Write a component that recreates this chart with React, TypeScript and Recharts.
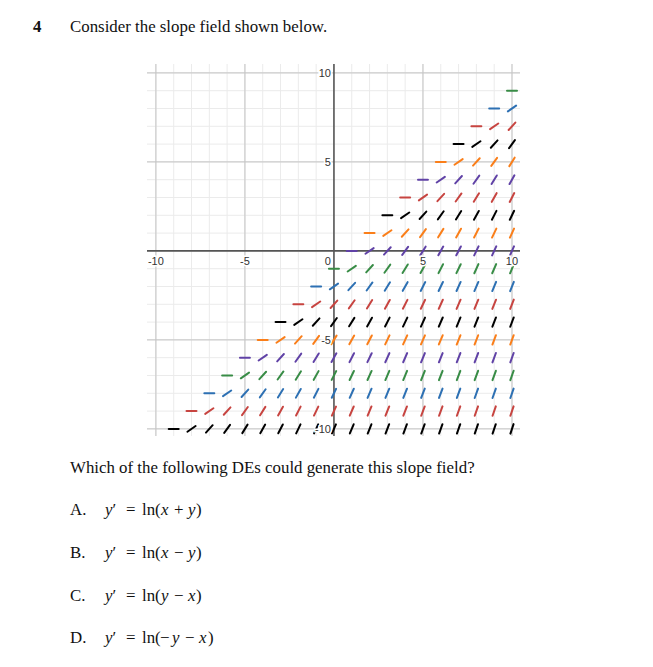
import React from 'react';
import { ScatterChart, XAxis, YAxis, ReferenceLine, Scatter } from 'recharts';

// Integer grid positions (x and y) of the slope field window
const gridValues = [-10, -9, -8, -7, -6, -5, -4, -3, -2, -1, 0, 1, 2, 3, 4, 5, 6, 7, 8, 9, 10];
const majorValues = [-10, -5, 5, 10];

// Rows of the slope field (y value) and the colour each row is drawn in
const rowYs = [9, 8, 7, 6, 5, 4, 3, 2, 1, 0, -1, -2, -3, -4, -5, -6, -7, -8, -9, -10];
const rowColors = [
  '#388c46', '#2d70b3', '#c74440', '#000000', '#fa7e19', '#6042a6',
  '#c74440', '#000000', '#fa7e19', '#6042a6',
  '#388c46', '#2d70b3', '#c74440', '#000000', '#fa7e19', '#6042a6',
  '#388c46', '#2d70b3', '#c74440', '#000000',
];

// Slope of a segment as read by gap = x - y (1..20)
const slopeByGap = [0, 0.69, 1.1, 1.39, 1.61, 1.79, 1.95, 2.08, 2.2, 2.3, 2.4, 2.48, 2.56, 2.64, 2.71, 2.77, 2.83, 2.89, 2.94, 3.0];

// Axis tick labels
const xLabelValues = [-10, -5, 0, 5, 10];
const xLabelTexts = ['-10', '-5', '0', '5', '10'];
const yLabelValues = [10, 5, -5, -10];
const yLabelTexts = ['10', '5', '-5', '-10'];

const HALF = 0.28;

const segments: { x1: number; y1: number; x2: number; y2: number; color: string }[] = [];
rowYs.forEach((y, i) => {
  gridValues.forEach((x) => {
    const gap = x - y;
    if (gap >= 1) {
      const m = slopeByGap[gap - 1];
      const h = HALF / Math.sqrt(1 + m * m);
      segments.push({ x1: x - h, y1: y - m * h, x2: x + h, y2: y + m * h, color: rowColors[i] });
    }
  });
});

const xLabelData = xLabelValues.map((v, i) => ({ x: v, y: 0, label: xLabelTexts[i] }));
const yLabelData = yLabelValues.map((v, i) => ({ x: 0, y: v, label: yLabelTexts[i] }));

const labelStyle = {
  fontFamily: 'Arial, "Liberation Sans", sans-serif',
  fontSize: 11,
  fill: '#333',
  stroke: '#fff',
  strokeWidth: 3,
  paintOrder: 'stroke',
} as React.CSSProperties;

const XLabel = (p: any) => (
  <text
    x={p.payload.x === 0 ? p.cx - 3 : p.cx}
    y={p.cy + 14}
    textAnchor={p.payload.x === 0 ? 'end' : 'middle'}
    style={labelStyle}
  >
    {p.payload.label}
  </text>
);

const YLabel = (p: any) => (
  <text x={p.cx - 3} y={p.cy + 4} textAnchor="end" style={labelStyle}>
    {p.payload.label}
  </text>
);

const SlopeChart = () => (
  <ScatterChart width={373} height={372} margin={{ top: 0, right: 0, bottom: 0, left: 0 }}>
    <XAxis type="number" dataKey="x" domain={[-10.5, 10.45]} hide allowDataOverflow />
    <YAxis type="number" dataKey="y" domain={[-10.4, 10.5]} hide allowDataOverflow />
    {gridValues.map((v) => (
      <ReferenceLine key={'vx' + v} x={v} stroke="#ebebeb" strokeWidth={1} />
    ))}
    {gridValues.map((v) => (
      <ReferenceLine key={'hy' + v} y={v} stroke="#ebebeb" strokeWidth={1} />
    ))}
    {majorValues.map((v) => (
      <ReferenceLine key={'mx' + v} x={v} stroke="#c4c4c4" strokeWidth={1} />
    ))}
    {majorValues.map((v) => (
      <ReferenceLine key={'my' + v} y={v} stroke="#c4c4c4" strokeWidth={1} />
    ))}
    <ReferenceLine x={0} stroke="#555" strokeWidth={1.6} />
    <ReferenceLine y={0} stroke="#555" strokeWidth={1.6} />
    <Scatter data={xLabelData} isAnimationActive={false} shape={XLabel} />
    <Scatter data={yLabelData} isAnimationActive={false} shape={YLabel} />
    {segments.map((s, i) => (
      <ReferenceLine
        key={'s' + i}
        segment={[{ x: s.x1, y: s.y1 }, { x: s.x2, y: s.y2 }]}
        stroke={s.color}
        strokeWidth={2}
        strokeLinecap="round"
        ifOverflow="visible"
      />
    ))}
  </ScatterChart>
);

const serif = '"Liberation Serif", "Times New Roman", serif';
const FS = 16.85;

// each option: pieces of the formula with their horizontal start and whether italic
type Piece = { t: string; x: number; it?: boolean };
const optionRows: { letter: string; y: number; pieces: Piece[] }[] = [
  {
    letter: 'A.', y: 515,
    pieces: [
      { t: 'y', x: 105, it: true }, { t: '\u2032', x: 112.5 }, { t: '=', x: 126 }, { t: 'ln(', x: 142 },
      { t: 'x', x: 161, it: true }, { t: '+', x: 174 }, { t: 'y', x: 188, it: true }, { t: ')', x: 196 },
    ],
  },
  {
    letter: 'B.', y: 558,
    pieces: [
      { t: 'y', x: 105, it: true }, { t: '\u2032', x: 112.5 }, { t: '=', x: 126 }, { t: 'ln(', x: 142 },
      { t: 'x', x: 161, it: true }, { t: '\u2212', x: 174 }, { t: 'y', x: 188, it: true }, { t: ')', x: 196 },
    ],
  },
  {
    letter: 'C.', y: 601,
    pieces: [
      { t: 'y', x: 105, it: true }, { t: '\u2032', x: 112.5 }, { t: '=', x: 126 }, { t: 'ln(', x: 142 },
      { t: 'y', x: 161, it: true }, { t: '\u2212', x: 174 }, { t: 'x', x: 188, it: true }, { t: ')', x: 196 },
    ],
  },
  {
    letter: 'D.', y: 643,
    pieces: [
      { t: 'y', x: 105, it: true }, { t: '\u2032', x: 112.5 }, { t: '=', x: 126 }, { t: 'ln(', x: 142 },
      { t: '\u2212', x: 160 }, { t: 'y', x: 172, it: true }, { t: '\u2212', x: 185 }, { t: 'x', x: 199, it: true },
      { t: ')', x: 208 },
    ],
  },
];

export default function App() {
  return (
    <div style={{ position: 'absolute', left: 0, top: 0, width: 653, height: 667, background: '#fff' }}>
      <svg width={653} height={667} style={{ position: 'absolute', left: 0, top: 0 }}>
        <text x={33} y={32} fontFamily={serif} fontSize={FS} fontWeight="bold" fill="#111">4</text>
        <text x={70} y={32} fontFamily={serif} fontSize={FS} fill="#111">Consider the slope field shown below.</text>
        <text x={70} y={473} fontFamily={serif} fontSize={FS} fill="#111">Which of the following DEs could generate this slope field?</text>
        {optionRows.map((o) => (
          <g key={o.letter}>
            <text x={70} y={o.y} fontFamily={serif} fontSize={FS} fill="#111">{o.letter}</text>
            <text y={o.y} fontFamily={serif} fontSize={FS} fill="#111">
              {o.pieces.map((p, i) => (
                <tspan key={i} x={p.x} fontStyle={p.it ? 'italic' : 'normal'}>{p.t}</tspan>
              ))}
            </text>
          </g>
        ))}
      </svg>
      <div style={{ position: 'absolute', left: 147, top: 64 }}>
        <SlopeChart />
      </div>
    </div>
  );
}
